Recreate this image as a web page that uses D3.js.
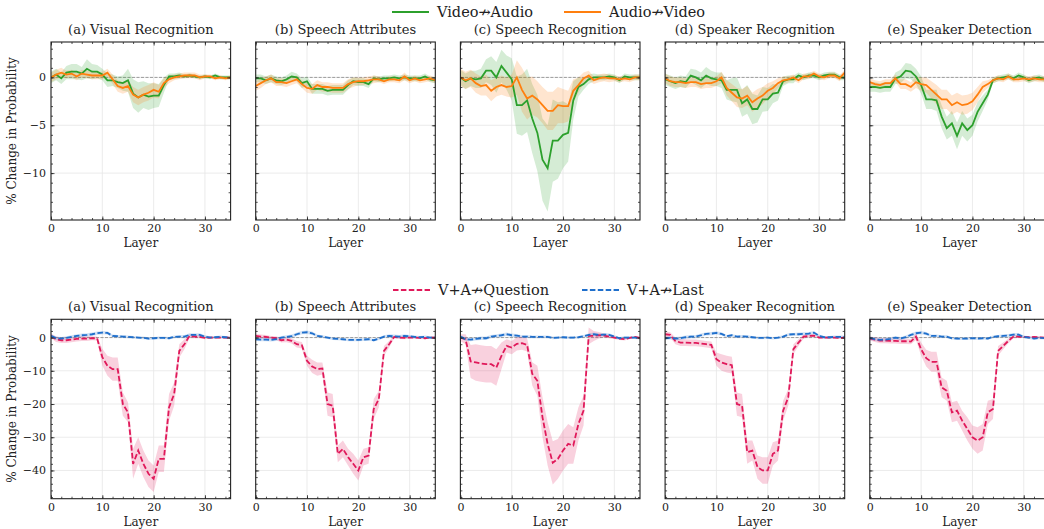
<!DOCTYPE html>
<html>
<head>
<meta charset="utf-8">
<script src="https://cdn.jsdelivr.net/npm/d3@7"></script>
<style>
  body { margin: 0; background: #fff; }
  text { font-family: "DejaVu Serif", serif; fill: #222; }
</style>
</head>
<body>
<svg id="chart" width="1044" height="529"></svg>
<script>
var layers = d3.range(36);
var titles = ["(a) Visual Recognition", "(b) Speech Attributes", "(c) Speech Recognition", "(d) Speaker Recognition", "(e) Speaker Detection"];
var xTicks = [0, 10, 20, 30];
var topYTicks = [0, -5, -10];
var bottomYTicks = [0, -10, -20, -30, -40];

// top row: Video-/->Audio (green) and Audio-/->Video (orange), one list per panel
var videoAudio = [
  [0,0.3,-0.1,0.5,0.6,0.6,0.4,0.9,0.6,0.6,0.3,-0.3,-0.3,-0.5,-0.6,-0.3,-1.7,-2.1,-1.8,-2.0,-1.9,-1.9,-0.8,0.1,0.1,0.2,0.1,0.2,0.1,0.0,0.1,0.0,0.2,0.0,0.0,0.0],
  [-0.1,-0.1,-0.3,-0.1,-0.3,-0.4,-0.2,0.1,0.0,-0.6,-0.4,-1.2,-1.2,-1.2,-1.4,-1.3,-1.3,-1.3,-0.8,-0.4,-0.5,-0.5,-0.7,-0.1,-0.2,-0.1,-0.1,0.0,-0.1,0.0,-0.1,-0.1,-0.1,0.1,-0.2,-0.3],
  [0,-0.4,-0.1,-0.2,-0.1,0.7,0.7,0.0,1.2,0.5,-0.2,-2.9,-2.9,-2.4,-4.3,-5.8,-8.6,-9.5,-6.6,-6.6,-6.0,-5.8,-2.4,-1.0,-0.7,-0.2,0.0,0.0,0.0,0.1,0.0,-0.3,0.1,0.0,0.0,0.0],
  [-0.2,-0.4,-0.6,-0.4,-0.5,0.2,0.0,-0.3,0.2,-0.1,-0.2,-0.3,-1.3,-1.3,-1.3,-2.7,-2.3,-3.3,-3.3,-2.3,-2.3,-1.7,-1.6,-0.4,-0.2,-0.2,0.2,0.0,0.2,0.2,0.0,0.2,0.3,0.3,0.0,0.0],
  [-1.0,-1.0,-1.1,-1.0,-1.0,-0.1,0.1,0.7,0.6,0.1,-0.8,-2.3,-2.3,-2.4,-4.1,-5.3,-4.8,-6.1,-4.8,-5.5,-5.0,-3.6,-2.7,-1.8,-0.3,-0.1,0.0,0.1,-0.1,0.2,0.0,-0.3,-0.1,0.0,-0.2,-0.1]
];
var videoAudioSd = [
  [0.6,0.6,0.6,0.7,0.8,0.8,0.7,1.0,0.8,0.7,0.6,0.7,0.6,0.6,0.8,1.2,1.5,1.6,1.4,1.4,1.3,1.2,0.8,0.3,0.3,0.3,0.2,0.2,0.2,0.2,0.2,0.2,0.2,0.2,0.2,0.2],
  [0.4,0.4,0.4,0.4,0.4,0.4,0.4,0.5,0.4,0.5,0.5,0.5,0.5,0.5,0.5,0.5,0.5,0.5,0.5,0.4,0.4,0.4,0.4,0.3,0.3,0.3,0.3,0.3,0.3,0.3,0.3,0.3,0.3,0.3,0.3,0.3],
  [0.8,0.8,0.8,0.9,1.0,1.2,1.5,1.6,1.7,1.8,2.2,3.0,3.2,3.3,3.6,4.0,4.3,4.5,4.3,4.0,3.5,3.0,2.0,1.0,0.6,0.5,0.4,0.3,0.3,0.3,0.3,0.3,0.3,0.3,0.3,0.3],
  [0.6,0.6,0.6,0.6,0.6,0.7,0.8,0.8,0.9,0.8,0.7,0.8,1.0,1.2,1.3,1.4,1.5,1.6,1.4,1.3,1.2,1.0,0.8,0.5,0.4,0.4,0.3,0.3,0.3,0.3,0.3,0.3,0.3,0.3,0.3,0.3],
  [0.5,0.5,0.5,0.5,0.5,0.6,0.7,0.8,0.8,0.8,0.9,1.0,1.0,1.1,1.2,1.2,1.3,1.4,1.3,1.2,1.1,1.0,0.8,0.5,0.3,0.3,0.3,0.3,0.3,0.3,0.3,0.3,0.3,0.3,0.3,0.3]
];
var audioVideo = [
  [0,0.3,0.5,0.3,0.4,0.1,0.4,0.3,0.2,0.2,0.2,0.5,-0.2,-0.9,-1.1,-0.9,-1.8,-2.1,-1.8,-1.6,-1.3,-1.5,-0.6,-0.2,0.0,0.1,0.2,0.2,0.2,0.0,0.1,0.1,-0.1,0.0,-0.1,0.0],
  [-0.9,-0.6,-0.3,-0.1,-0.5,-0.5,-0.6,-0.4,-0.2,-0.7,-1.1,-1.2,-0.8,-1.0,-1.0,-1.1,-1.1,-1.1,-0.7,-0.5,-0.4,-0.4,-0.3,-0.2,-0.2,-0.4,-0.2,-0.2,-0.3,0.1,-0.3,-0.1,-0.3,-0.2,-0.1,-0.3],
  [0.0,-0.3,-0.1,-0.6,-0.9,-0.8,-1.4,-1.0,-0.8,-1.0,-0.9,0.0,-1.3,-2.2,-1.9,-2.3,-2.9,-3.5,-3.5,-2.9,-3.0,-3.0,-1.4,-0.8,-0.1,0.2,-0.3,-0.1,0.0,-0.1,-0.1,-0.2,-0.1,-0.2,0.0,0.0],
  [-0.1,-0.4,-0.5,-0.5,-0.6,-0.5,-0.5,-0.7,-0.6,-0.6,-0.4,0.0,-1.1,-1.6,-2.1,-2.2,-1.9,-2.6,-2.2,-1.9,-1.4,-1.1,-0.6,-0.3,-0.2,0.0,-0.3,0.1,0.1,0.4,0.1,0.0,0.2,0.2,-0.1,0.5],
  [-0.5,-0.7,-0.8,-0.6,-0.6,-0.1,-0.7,-0.7,-1.0,-0.5,-0.7,-0.8,-1.3,-1.8,-2.3,-2.3,-2.9,-2.6,-2.9,-2.8,-2.5,-1.8,-1.0,-0.7,-0.3,-0.1,-0.2,0.1,-0.2,-0.2,-0.1,-0.2,-0.1,-0.2,-0.2,-0.2]
];
var audioVideoSd = [
  [0.5,0.5,0.5,0.4,0.4,0.4,0.4,0.4,0.4,0.4,0.4,0.4,0.5,0.6,0.6,0.6,0.8,0.8,0.8,0.8,0.8,0.7,0.5,0.4,0.3,0.3,0.3,0.3,0.3,0.3,0.2,0.2,0.2,0.2,0.2,0.2],
  [0.5,0.5,0.4,0.4,0.4,0.4,0.4,0.4,0.4,0.4,0.5,0.5,0.5,0.5,0.5,0.5,0.5,0.5,0.5,0.5,0.4,0.4,0.4,0.4,0.3,0.3,0.3,0.3,0.3,0.4,0.3,0.3,0.3,0.3,0.3,0.3],
  [0.9,0.9,0.9,1.0,1.0,1.1,1.1,1.0,1.0,1.0,1.2,1.8,2.3,2.2,2.0,1.9,1.9,2.0,2.0,1.9,1.8,1.6,1.2,0.8,0.6,0.5,0.4,0.4,0.4,0.4,0.3,0.3,0.3,0.3,0.3,0.3],
  [0.5,0.5,0.5,0.5,0.5,0.5,0.5,0.5,0.5,0.5,0.5,0.6,0.8,0.9,1.0,1.0,1.0,1.0,1.0,0.9,0.8,0.7,0.5,0.4,0.3,0.3,0.3,0.3,0.3,0.3,0.3,0.3,0.3,0.3,0.3,0.3],
  [0.4,0.4,0.4,0.4,0.4,0.4,0.5,0.5,0.5,0.6,0.7,0.8,0.9,1.0,1.0,1.0,1.0,1.0,1.0,1.0,0.9,0.8,0.6,0.4,0.3,0.3,0.3,0.3,0.3,0.3,0.3,0.3,0.3,0.3,0.3,0.3]
];

// bottom row: V+A-/->Question (pink) and V+A-/->Last (blue)
var vaQuestion = [
  [0.5,-0.5,-0.8,-0.8,-0.6,-0.4,-0.3,-0.3,-0.2,-0.3,-5.9,-8.5,-9.5,-9.5,-20,-22.5,-38,-34,-38,-41,-42.5,-36.5,-36.5,-21,-17,-4,-2,0.5,0.3,0.2,-0.1,0,0,0,0,0],
  [0.5,0.3,0.2,0.0,-0.2,-0.8,-0.6,-1.0,-2.0,-2.3,-7.0,-8.7,-9.5,-9.3,-20,-20.5,-35,-33.5,-36,-38,-40,-36,-35.5,-21.5,-18.5,-4,-2,0.2,0,-0.1,0,0,-0.1,-0.2,0,0],
  [0.0,-0.5,-7.2,-7.5,-7.8,-8.0,-8.0,-9.0,-5.5,-2.5,-3.0,-1.9,-1.7,-2.2,-10.9,-13,-24,-32,-37.7,-36.5,-34,-32,-32.5,-26,-22,0.5,0.5,0.7,0.6,0.3,0.0,-0.3,-0.5,-0.1,0.2,-0.1],
  [1.0,0.8,-1.0,-1.5,-1.5,-1.6,-1.6,-1.8,-2.0,-2.2,-6.5,-7.5,-8.0,-8.3,-20,-20.5,-34.5,-34,-39,-40,-40,-35,-34,-22,-18,-3.5,-1.5,0.3,0.5,0.6,0,0,0,0,-0.1,0],
  [-0.3,-0.6,-0.9,-0.9,-1.0,-1.0,-1.1,-1.1,-1.2,0.3,-3.5,-6.2,-7.3,-7.3,-15,-16,-22.5,-22,-25,-27.5,-30,-31,-30,-22.5,-21.5,-4,-2.5,-1.0,0.3,0.3,0.2,0.1,0.2,0.1,0,0]
];
var vaQuestionSd = [
  [0.7,0.8,0.8,0.8,0.8,0.8,0.7,0.7,0.6,0.6,2.5,3.0,3.5,3.5,3.5,3.0,4.5,4.0,4.0,4.0,4.0,4.0,4.0,4.0,3.5,2.0,1.5,0.6,0.5,0.4,0.4,0.3,0.3,0.3,0.3,0.3],
  [0.6,0.6,0.6,0.5,0.6,0.7,0.8,0.8,1.0,1.0,1.5,2.0,2.0,1.8,3.5,3.5,2.5,2.5,2.5,3.0,3.0,2.5,2.5,3.0,2.5,1.5,1.0,0.4,0.4,0.4,0.3,0.3,0.3,0.3,0.3,0.3],
  [1.0,1.5,5.0,5.5,5.5,5.5,5.5,5.5,4.0,2.0,2.0,2.0,2.0,2.0,3.5,4.5,6.0,6.5,6.5,6.0,6.0,6.0,5.5,5.0,4.5,2.5,1.5,1.0,0.6,0.5,0.4,0.4,0.4,0.3,0.3,0.3],
  [0.8,0.8,1.0,1.0,1.0,1.0,1.0,1.0,1.0,1.0,2.0,2.5,2.5,2.5,3.5,3.5,3.5,3.0,3.5,4.0,4.0,3.5,3.0,3.0,2.5,1.5,1.0,0.6,0.5,0.4,0.3,0.3,0.3,0.3,0.3,0.3],
  [0.6,0.7,0.8,0.8,0.8,0.8,0.8,0.8,0.8,1.0,2.0,2.5,3.0,3.0,3.0,3.0,3.0,3.0,3.0,3.5,3.5,4.0,4.0,3.5,3.0,1.5,1.0,0.7,0.5,0.4,0.3,0.3,0.3,0.3,0.3,0.3]
];
var vaLast = [
  [0.5,-0.2,-0.3,-0.1,0.2,0.5,0.7,0.8,1.0,1.3,1.5,1.4,0.5,0.4,0.3,0.2,0.1,0.0,-0.1,-0.3,-0.2,-0.1,-0.1,-0.2,0.2,0.3,0.3,0.8,0.8,0.8,0.3,0.0,0.1,0.2,0.1,-0.1],
  [-0.5,-0.6,-0.6,-0.7,-0.5,0.0,0.2,0.4,1.0,1.5,1.6,1.3,0.5,0.3,0.0,-0.3,-0.4,-0.5,-0.7,-0.7,-0.7,-0.6,-0.5,-0.8,-0.3,0.3,0.5,0.4,0.3,0.5,0.4,0.2,0.1,0.2,0.0,0.0],
  [0.3,-0.5,-0.6,-0.4,-0.2,-0.2,0.3,0.5,0.7,1.0,0.7,0.6,0.3,0.3,0.2,0.2,0.2,0.2,-0.1,0.0,0.1,0.0,0.0,0.1,0.4,0.8,1.0,0.8,0.9,0.8,0.3,-0.2,0.0,0.0,0.0,-0.2],
  [-0.2,-0.1,-0.3,-0.2,0.1,0.3,0.3,0.7,1.1,1.2,1.4,1.1,0.4,0.7,0.3,0.4,0.3,0.1,-0.1,-0.1,0.0,-0.2,0.0,0.3,0.9,1.0,1.0,1.1,1.2,1.5,0.5,0.1,0.1,0.2,0.2,0.2],
  [-0.2,-0.5,-0.7,-0.6,-0.4,0.0,-0.3,0.1,0.8,1.3,1.5,1.2,0.5,0.5,0.3,0.3,-0.2,-0.3,-0.3,-0.3,-0.2,-0.3,-0.2,-0.3,0.2,0.4,0.5,0.6,0.9,0.9,0.2,0.0,-0.3,-0.1,-0.2,-0.3]
];
var vaLastSd = [0.5,0.5,0.5,0.5,0.5,0.5,0.5,0.5,0.5,0.5,0.5,0.5,0.4,0.4,0.4,0.4,0.4,0.4,0.4,0.4,0.4,0.4,0.4,0.4,0.4,0.4,0.5,0.5,0.5,0.5,0.4,0.4,0.4,0.4,0.4,0.4];

var green = "#2ca02c", orange = "#ff7f0e", pink = "#e0195a", blue = "#1f6fcc";

var svg = d3.select("#chart");
var panelW = 179.6, colStep = 204.7, firstX = 51;

var rows = [
  { top: 42, bottom: 220, dom: [-14.9, 3.7], ticks: topYTicks, minor: d3.range(-14, 4, 1),
    series: [
      { mean: videoAudio, sd: videoAudioSd, color: green, dash: null },
      { mean: audioVideo, sd: audioVideoSd, color: orange, dash: null }
    ] },
  { top: 319.3, bottom: 498.7, dom: [-48.5, 5.5], ticks: bottomYTicks, minor: d3.range(-48, 6, 2),
    series: [
      { mean: vaQuestion, sd: vaQuestionSd, color: pink, dash: "5.5,2.4" },
      { mean: vaLast, sd: null, color: blue, dash: "5.5,2.4" }
    ] }
];

rows.forEach(function(row, r) {
  for (var p = 0; p < 5; p++) {
    drawPanel(row, r, p);
  }
});

function drawPanel(row, r, p) {
  var x0 = firstX + p * colStep;
  var x = d3.scaleLinear().domain([0, 35]).range([x0, x0 + panelW]);
  var y = d3.scaleLinear().domain(row.dom).range([row.bottom, row.top]);
  var g = svg.append("g");
  var clipId = "clip" + r + "_" + p;
  g.append("clipPath").attr("id", clipId).append("rect")
    .attr("x", x0).attr("y", row.top).attr("width", panelW).attr("height", row.bottom - row.top);

  // grid
  g.selectAll(".gx").data(xTicks).enter().append("line")
    .attr("x1", d => x(d)).attr("x2", d => x(d)).attr("y1", row.top).attr("y2", row.bottom)
    .attr("stroke", "#e6e6e6").attr("stroke-width", 0.8);
  g.selectAll(".gy").data(row.ticks).enter().append("line")
    .attr("x1", x0).attr("x2", x0 + panelW).attr("y1", d => y(d)).attr("y2", d => y(d))
    .attr("stroke", "#e6e6e6").attr("stroke-width", 0.8);

  var plot = g.append("g").attr("clip-path", "url(#" + clipId + ")");

  plot.append("line")
    .attr("x1", x0).attr("x2", x0 + panelW).attr("y1", y(0)).attr("y2", y(0))
    .attr("stroke", "#888").attr("stroke-width", 0.8).attr("stroke-dasharray", "3,1.5");

  row.series.forEach(function(s) {
    var m = s.mean[p];
    var sd = s.sd ? s.sd[p] : vaLastSd;
    var area = d3.area()
      .x(d => x(d))
      .y0(d => y(m[d] - sd[d]))
      .y1(d => y(m[d] + sd[d]));
    plot.append("path").datum(layers).attr("d", area)
      .attr("fill", s.color).attr("fill-opacity", 0.2);
  });
  row.series.forEach(function(s) {
    var m = s.mean[p];
    var line = d3.line().x(d => x(d)).y(d => y(m[d]));
    plot.append("path").datum(layers).attr("d", line)
      .attr("fill", "none").attr("stroke", s.color).attr("stroke-width", 1.8)
      .attr("stroke-dasharray", s.dash);
  });

  // axes with inward ticks on all four sides
  var fmt = d3.format("d");
  g.append("g").attr("transform", "translate(0," + row.bottom + ")")
    .call(d3.axisBottom(x).tickValues(xTicks).tickSizeInner(-3.5).tickSizeOuter(0).tickPadding(4.5).tickFormat(fmt))
    .call(styleAxis, 11);
  g.append("g").attr("transform", "translate(0," + row.bottom + ")")
    .call(d3.axisBottom(x).tickValues(d3.range(0, 36, 2)).tickSizeInner(-2).tickSizeOuter(0).tickFormat(""))
    .call(styleAxis, 11);
  g.append("g").attr("transform", "translate(0," + row.top + ")")
    .call(d3.axisTop(x).tickValues(xTicks).tickSizeInner(-3.5).tickSizeOuter(0).tickFormat(""))
    .call(styleAxis, 11);
  g.append("g").attr("transform", "translate(0," + row.top + ")")
    .call(d3.axisTop(x).tickValues(d3.range(0, 36, 2)).tickSizeInner(-2).tickSizeOuter(0).tickFormat(""))
    .call(styleAxis, 11);
  var yAx = d3.axisLeft(y).tickValues(row.ticks).tickSizeInner(-3.5).tickSizeOuter(0).tickPadding(5).tickFormat(fmt);
  if (p > 0) yAx.tickFormat("");
  g.append("g").attr("transform", "translate(" + x0 + ",0)").call(yAx).call(styleAxis, 11);
  g.append("g").attr("transform", "translate(" + x0 + ",0)")
    .call(d3.axisLeft(y).tickValues(row.minor).tickSizeInner(-2).tickSizeOuter(0).tickFormat(""))
    .call(styleAxis, 11);
  g.append("g").attr("transform", "translate(" + (x0 + panelW) + ",0)")
    .call(d3.axisRight(y).tickValues(row.ticks).tickSizeInner(-3.5).tickSizeOuter(0).tickFormat(""))
    .call(styleAxis, 11);
  g.append("g").attr("transform", "translate(" + (x0 + panelW) + ",0)")
    .call(d3.axisRight(y).tickValues(row.minor).tickSizeInner(-2).tickSizeOuter(0).tickFormat(""))
    .call(styleAxis, 11);

  g.append("rect").attr("x", x0).attr("y", row.top).attr("width", panelW).attr("height", row.bottom - row.top)
    .attr("fill", "none").attr("stroke", "#222").attr("stroke-width", 1.1);

  g.append("text").attr("x", x0 + panelW / 2).attr("y", row.top - 8.5)
    .attr("text-anchor", "middle").style("font-size", "13px").text(titles[p]);
  g.append("text").attr("x", x0 + panelW / 2).attr("y", row.bottom + 27)
    .attr("text-anchor", "middle").style("font-size", "12px").text("Layer");

  if (p == 0) {
    var cy = (row.top + row.bottom) / 2;
    g.append("text").attr("transform", "translate(16," + cy + ") rotate(-90)")
      .attr("text-anchor", "middle").style("font-size", "12px").text("% Change in Probability");
  }
}

function styleAxis(sel, size) {
  sel.select(".domain").remove();
  sel.selectAll(".tick line").attr("stroke", "#222").attr("stroke-width", 0.8);
  sel.selectAll(".tick text").style("font-size", size + "px").attr("fill", "#222")
    .style("font-family", "'DejaVu Serif', serif");
}

// legends
var legends = [
  { y: 12, items: [
    { label: "Video\u219BAudio", color: green, dash: null, x: 392 },
    { label: "Audio\u219BVideo", color: orange, dash: null, x: 564 } ] },
  { y: 290, items: [
    { label: "V+A\u219BQuestion", color: pink, dash: "5.5,2.4", x: 393 },
    { label: "V+A\u219BLast", color: blue, dash: "5.5,2.4", x: 582 } ] }
];
legends.forEach(function(lg) {
  lg.items.forEach(function(it) {
    svg.append("line").attr("x1", it.x).attr("x2", it.x + 37).attr("y1", lg.y).attr("y2", lg.y)
      .attr("stroke", it.color).attr("stroke-width", 1.8).attr("stroke-dasharray", it.dash);
    svg.append("text").attr("x", it.x + 45).attr("y", lg.y + 5).style("font-size", "14.5px").text(it.label);
  });
});
</script>
</body>
</html>
